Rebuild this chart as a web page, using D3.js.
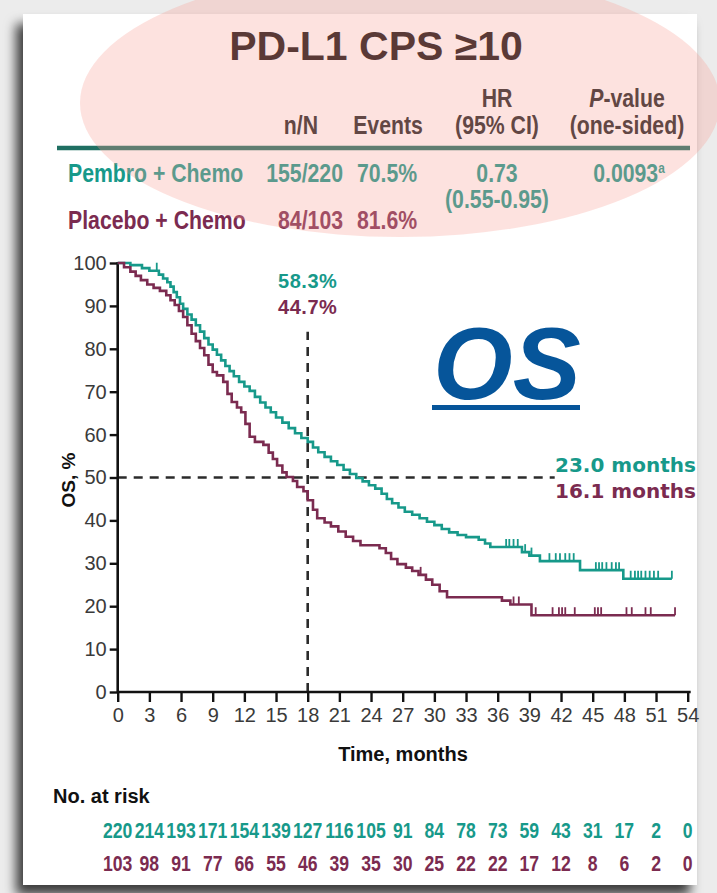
<!DOCTYPE html>
<html>
<head>
<meta charset="utf-8">
<script src="https://cdn.jsdelivr.net/npm/d3@7"></script>
<style>
  html, body { margin: 0; padding: 0; background: #ececec; }
  svg { display: block; }
</style>
</head>
<body>
<svg id="chart" width="717" height="893"></svg>
<script>
// ---- Data -------------------------------------------------------------
const groups = ["Pembro + Chemo", "Placebo + Chemo"];
const groupNN = ["155/220", "84/103"];
const groupEvents = ["70.5%", "81.6%"];
const hazardRatio = "0.73";
const hazardCI = "(0.55-0.95)";
const pValue = "0.0093";
const rate18 = ["58.3%", "44.7%"];
const medianLabels = ["23.0 months", "16.1 months"];

const monthTicks = [0, 3, 6, 9, 12, 15, 18, 21, 24, 27, 30, 33, 36, 39, 42, 45, 48, 51, 54];
const pctTicks = [0, 10, 20, 30, 40, 50, 60, 70, 80, 90, 100];

// Kaplan-Meier steps: [month, OS %]
const pembroSteps = [
  [0,100],[1.2,99.5],[2.3,98.8],[3.0,98.2],[3.9,97.3],[4.3,96.4],[4.7,95.5],[5.0,94.5],
  [5.3,93.2],[5.6,92],[5.9,90.5],[6.2,89.3],[6.6,88],[7.0,86.8],[7.4,85.5],[7.8,84],
  [8.2,82.5],[8.6,81],[9.0,79.8],[9.4,78.6],[9.8,77.3],[10.2,76],[10.6,74.8],[11.0,73.6],
  [11.5,72.3],[12.0,71.2],[12.5,70.2],[13.0,68.8],[13.5,67.5],[14.0,66.3],[14.5,65.2],
  [15.0,64],[15.6,62.8],[16.2,61.5],[16.8,60.3],[17.4,59.2],[18.0,58.3],[18.5,57],
  [19.0,55.9],[19.6,54.8],[20.2,53.8],[20.8,52.9],[21.4,51.8],[22.0,50.8],[22.6,49.9],
  [23.2,49.1],[23.8,48.2],[24.4,47.4],[25.0,46.2],[25.5,45],[26.0,44],[26.6,43],[27.2,42],
  [27.9,41.3],[28.6,40.5],[29.3,39.7],[30.0,38.9],[30.7,38],[31.4,37.2],[32.2,36.6],
  [33.0,36.1],[34.2,35.5],[34.8,34.6],[35.3,33.8],[38.3,32.6],[39.0,31.8],[40.0,30.5],
  [43.8,28.4],[47.9,26.4]
];
const pembroEnd = 52.5;
const pembroCensor = [3.7, 36.8, 37.1, 37.5, 37.9, 38.6, 39.2, 40.9, 41.5, 41.9, 42.4, 42.8,
  43.2, 45.3, 45.6, 45.9, 46.3, 46.8, 47.2, 47.5, 48.6, 49.0, 49.3, 49.6, 50.0, 50.4, 50.8,
  51.2, 52.5];

const placeboSteps = [
  [0,100],[0.6,99],[1.2,98],[1.7,97],[2.2,96],[2.8,95],[3.4,94.2],[4.0,93.5],[4.6,92.5],
  [5.0,91.3],[5.4,90.2],[5.8,88.8],[6.2,87.4],[6.6,85.5],[7.0,83.5],[7.4,81.8],[7.8,80.2],
  [8.2,78.5],[8.6,76.3],[9.0,74.6],[9.4,73.8],[10.0,72.3],[10.4,69.5],[10.8,67.6],
  [11.3,66.3],[11.7,65.2],[12.1,62.5],[12.5,59.5],[13.0,58.3],[13.8,57.6],[14.3,55.8],
  [14.7,54.3],[15.1,52.8],[15.6,51.2],[16.0,50.1],[16.6,49.2],[17.0,47.8],[17.6,46.8],
  [18.0,44.7],[18.5,42.5],[18.9,40.5],[19.6,39.5],[20.2,38.6],[20.9,37.4],[21.6,36.2],
  [22.3,35.2],[23.0,34.2],[24.8,33.5],[25.4,32.4],[25.9,31.0],[26.5,29.8],[27.3,29.0],
  [27.9,28.2],[28.5,27.3],[29.2,26.2],[29.8,25],[30.5,23.5],[31.2,22.1],[36.4,21.3],
  [37.2,20.4],[39.2,17.9]
];
const placeboEnd = 52.8;
const placeboCensor = [28.7, 37.5, 38.0, 39.6, 41.2, 41.8, 42.1, 42.4, 43.3, 45.2, 45.5,
  45.8, 48.2, 48.7, 50.0, 50.5, 52.8];

const atRiskPembro = [220, 214, 193, 171, 154, 139, 127, 116, 105, 91, 84, 78, 73, 59, 43, 31, 17, 2, 0];
const atRiskPlacebo = [103, 98, 91, 77, 66, 55, 46, 39, 35, 30, 25, 22, 22, 17, 12, 8, 6, 2, 0];

const landmarkMonth = 18;
const medianPct = 50;

// ---- Styling ----------------------------------------------------------
const TEAL = "#17998a";
const MAROON = "#7b2b50";
const SANS = "'Liberation Sans', Arial, Helvetica, sans-serif";
const WIDE = "'DejaVu Sans', Verdana, sans-serif";
const CONDENSE = 0.85;   // horizontal squeeze for the condensed table type

const svg = d3.select("#chart");
const W = 717, H = 893;

// Condensed label: a text squeezed horizontally about its anchor point
function condensed(parent, x, y, str, opts = {}) {
  const g = parent.append("g")
    .attr("transform", `translate(${x},${y}) scale(${opts.sx || CONDENSE},1)`);
  const t = g.append("text")
    .attr("text-anchor", opts.anchor || "start")
    .attr("font-family", SANS)
    .attr("font-weight", opts.weight || "bold")
    .attr("font-size", opts.size || 25)
    .attr("fill", opts.fill || "#222");
  if (str !== null) t.text(str);
  return t;
}

// Page and card with shadow
const defs = svg.append("defs");
const sh = defs.append("filter").attr("id", "cardShadow")
  .attr("x", "-10%").attr("y", "-10%").attr("width", "120%").attr("height", "120%");
sh.append("feDropShadow").attr("dx", -7).attr("dy", 10).attr("stdDeviation", 6)
  .attr("flood-color", "#000").attr("flood-opacity", 0.75);

svg.append("rect").attr("width", W).attr("height", H).attr("fill", "#ececec");
svg.append("rect").attr("x", 23).attr("y", 14).attr("width", 674).attr("height", 871)
  .attr("fill", "#fff").attr("filter", "url(#cardShadow)");

// ---- Header table -----------------------------------------------------
const head = svg.append("g");

head.append("text").attr("x", 376).attr("y", 60).attr("text-anchor", "middle")
  .attr("font-family", SANS).attr("font-weight", "bold").attr("font-size", 41)
  .attr("fill", "#160d0d").text("PD-L1 CPS \u226510");

condensed(head, 497, 107, "HR", { anchor: "middle" });
condensed(head, 497, 134, "(95% CI)", { anchor: "middle" });
const pv = condensed(head, 627, 107, null, { anchor: "middle" });
pv.append("tspan").attr("font-style", "italic").text("P");
pv.append("tspan").text("-value");
condensed(head, 627, 134, "(one-sided)", { anchor: "middle" });
condensed(head, 318, 134, "n/N", { anchor: "end" });
condensed(head, 388, 134, "Events", { anchor: "middle" });

head.append("line").attr("x1", 57).attr("x2", 690).attr("y1", 148).attr("y2", 148)
  .attr("stroke", "#1f6f62").attr("stroke-width", 4.5);

const rowY = [182, 229];
const rowColor = [TEAL, MAROON];
groups.forEach((g, i) => {
  condensed(head, 68, rowY[i], g, { fill: rowColor[i] });
  condensed(head, 343, rowY[i], groupNN[i], { anchor: "end", fill: rowColor[i] });
  condensed(head, 387, rowY[i], groupEvents[i], { anchor: "middle", fill: rowColor[i] });
});
condensed(head, 497, rowY[0], hazardRatio, { anchor: "middle", fill: TEAL });
condensed(head, 497, 208, hazardCI, { anchor: "middle", fill: TEAL });
const pvt = condensed(head, 629, rowY[0], null, { anchor: "middle", fill: TEAL });
pvt.append("tspan").text(pValue);
pvt.append("tspan").attr("font-size", 14).attr("dy", -9).text("a");

// ---- Plot -------------------------------------------------------------
const x = d3.scaleLinear().domain([0, 54]).range([117.7, 687.7]);
const y = d3.scaleLinear().domain([0, 100]).range([692, 263]);

const plot = svg.append("g");

// Reference lines at the landmark and the median
const dash = "9,7";
plot.append("line")
  .attr("x1", x(landmarkMonth)).attr("x2", x(landmarkMonth))
  .attr("y1", y(0)).attr("y2", y(84))
  .attr("stroke", "#2b2b2b").attr("stroke-width", 2.6).attr("stroke-dasharray", dash);
plot.append("line")
  .attr("x1", x(0)).attr("x2", x(41.4))
  .attr("y1", y(medianPct)).attr("y2", y(medianPct))
  .attr("stroke", "#2b2b2b").attr("stroke-width", 2.6).attr("stroke-dasharray", dash);

// Axes
const xAxis = plot.append("g").attr("transform", `translate(0,${y(0)})`)
  .call(d3.axisBottom(x).tickValues(monthTicks).tickSize(10).tickSizeOuter(0).tickPadding(6).tickFormat(d => d));
const yAxis = plot.append("g").attr("transform", `translate(${x(0)},0)`)
  .call(d3.axisLeft(y).tickValues(pctTicks).tickSize(8).tickSizeOuter(0).tickPadding(3).tickFormat(d => d));
[xAxis, yAxis].forEach(a => {
  a.select(".domain").attr("stroke", "#111").attr("stroke-width", 2.6);
  a.selectAll(".tick line").attr("stroke", "#111").attr("stroke-width", 2.4);
  a.selectAll(".tick text").attr("font-family", SANS).attr("font-size", 20).attr("fill", "#3a3a3a");
});
xAxis.select(".domain").attr("d", `M${x(0)},0H${x(54) + 3}`);
yAxis.select(".domain").attr("d", `M0,${y(0)}V${y(100) - 1}`);

// Survival curves
const km = d3.line().x(d => x(d[0])).y(d => y(d[1])).curve(d3.curveStepAfter);
const survivalAt = (steps, t) => {
  let v = steps[0][1];
  for (const s of steps) { if (s[0] <= t) v = s[1]; }
  return v;
};
const series = [
  { steps: pembroSteps, end: pembroEnd, censor: pembroCensor, color: TEAL },
  { steps: placeboSteps, end: placeboEnd, censor: placeboCensor, color: MAROON }
];
series.forEach(s => {
  const pts = s.steps.concat([[s.end, s.steps[s.steps.length - 1][1]]]);
  plot.append("path").datum(pts).attr("d", km)
    .attr("fill", "none").attr("stroke", s.color).attr("stroke-width", 2.6);
  plot.selectAll(null).data(s.censor).join("line")
    .attr("x1", d => x(d)).attr("x2", d => x(d))
    .attr("y1", d => y(survivalAt(s.steps, d)))
    .attr("y2", d => y(survivalAt(s.steps, d)) - 8)
    .attr("stroke", s.color).attr("stroke-width", 1.8);
});

// Annotations
plot.append("text").attr("x", x(landmarkMonth)).attr("y", 288).attr("text-anchor", "middle")
  .attr("font-family", SANS).attr("font-weight", "bold").attr("font-size", 20)
  .attr("letter-spacing", 0.5).attr("fill", TEAL).text(rate18[0]);
plot.append("text").attr("x", x(landmarkMonth)).attr("y", 314).attr("text-anchor", "middle")
  .attr("font-family", SANS).attr("font-weight", "bold").attr("font-size", 20)
  .attr("letter-spacing", 0.5).attr("fill", MAROON).text(rate18[1]);
plot.append("text").attr("x", 555).attr("y", 472)
  .attr("font-family", WIDE).attr("font-weight", "bold").attr("font-size", 20)
  .attr("fill", TEAL).text(medianLabels[0]);
plot.append("text").attr("x", 555).attr("y", 498)
  .attr("font-family", WIDE).attr("font-weight", "bold").attr("font-size", 20)
  .attr("fill", MAROON).text(medianLabels[1]);

// Big "OS" badge
plot.append("text").attr("x", 507).attr("y", 399).attr("text-anchor", "middle")
  .attr("font-family", SANS).attr("font-weight", "bold").attr("font-style", "italic")
  .attr("font-size", 102).attr("fill", "#06559a").text("OS");
plot.append("rect").attr("x", 432).attr("y", 405).attr("width", 148).attr("height", 5).attr("fill", "#06559a");

// Axis titles
plot.append("text").attr("transform", `translate(75,480) rotate(-90)`).attr("text-anchor", "middle")
  .attr("font-family", SANS).attr("font-weight", "bold").attr("font-size", 19).attr("fill", "#111").text("OS, %");
plot.append("text").attr("x", 403).attr("y", 761).attr("text-anchor", "middle")
  .attr("font-family", SANS).attr("font-weight", "bold").attr("font-size", 20).attr("fill", "#111").text("Time, months");

// ---- Number at risk ---------------------------------------------------
const risk = svg.append("g");
risk.append("text").attr("x", 53).attr("y", 803)
  .attr("font-family", SANS).attr("font-weight", "bold").attr("font-size", 20).attr("fill", "#111").text("No. at risk");
[[atRiskPembro, TEAL, 838], [atRiskPlacebo, MAROON, 871]].forEach(([vals, col, yy]) => {
  risk.selectAll(null).data(vals).join("g")
    .attr("transform", (d, i) => `translate(${x(monthTicks[i])},${yy}) scale(0.8,1)`)
    .append("text").attr("text-anchor", "middle")
    .attr("font-family", SANS).attr("font-weight", "bold").attr("font-size", 22)
    .attr("fill", col).text(d => d);
});

// ---- Highlight oval over the header ------------------------------------
svg.append("ellipse").attr("cx", 400).attr("cy", 103).attr("rx", 320).attr("ry", 134)
  .attr("fill", "rgb(248,160,150)").attr("fill-opacity", 0.3);
</script>
</body>
</html>
